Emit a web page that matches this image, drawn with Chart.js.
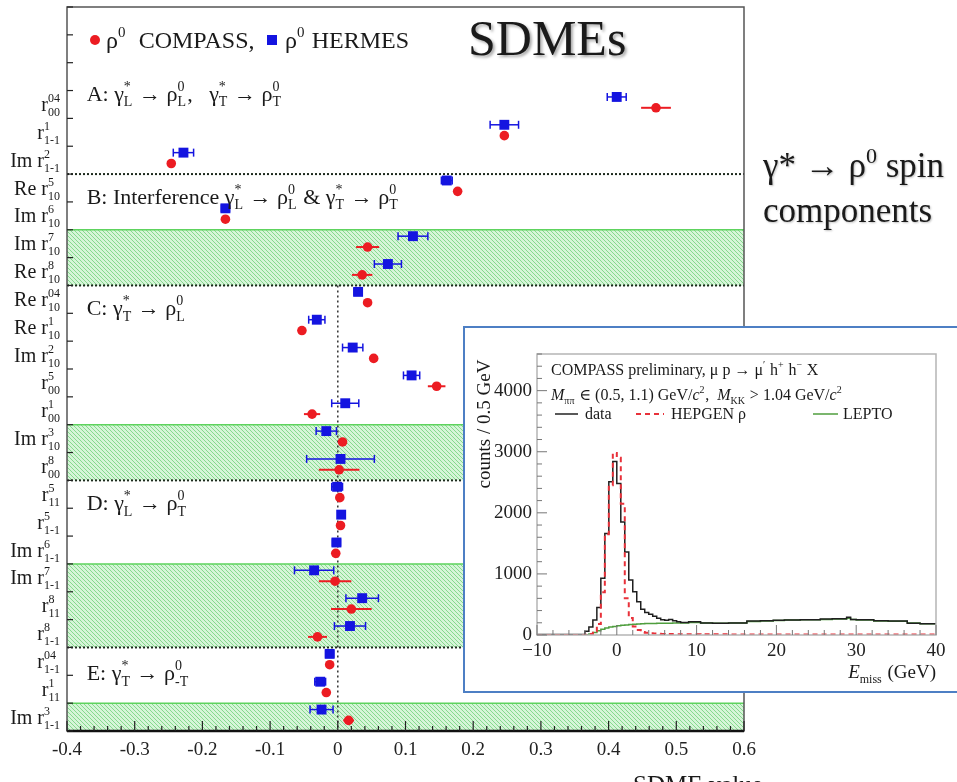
<!DOCTYPE html>
<html>
<head>
<meta charset="utf-8">
<script src="https://cdn.jsdelivr.net/npm/chart.js@4.4.1/dist/chart.umd.min.js"></script>
<style>
  html, body { margin: 0; padding: 0; background: #fff; }
  body { width: 957px; height: 782px; overflow: hidden; position: relative;
         font-family: "Liberation Serif", "DejaVu Serif", serif; color: #1a1a1a; }
  #main { position: absolute; left: 0; top: 0; }
  #insetBox { position: absolute; left: 463px; top: 326px; width: 520px; height: 363px;
              border: 2px solid #4d7fc4; background: #fff; }
  #inset { position: absolute; left: 1px; top: 1px; }
  .txt { position: absolute; white-space: nowrap; }
  #title { left: 468px; top: 13px; font-size: 50px; line-height: 50px;
           text-shadow: 2px 2px 3px rgba(0,0,0,0.35); }
  #caption { left: 763px; top: 145px; font-size: 35px; line-height: 41px;
             text-shadow: 1px 1px 2px rgba(0,0,0,0.25); }
  #caption .s { font-size: 22px; position: relative; top: -14px; }
  #xtitle { left: 633px; top: 772px; font-size: 25px; line-height: 25px; }
</style>
</head>
<body>
<canvas id="main" width="957" height="782"></canvas>
<div class="txt" id="title">SDMEs</div>
<div class="txt" id="caption">γ* → ρ<span class="s">0</span> spin<br>components</div>
<div class="txt" id="xtitle">SDME value</div>
<div id="insetBox"><canvas id="inset" width="491" height="361"></canvas></div>

<script>
const SERIF = '"Liberation Serif", "DejaVu Serif", serif';

// rows, top to bottom
const rowPrefix = ['', '', 'Im ', 'Re ', 'Im ', 'Im ', 'Re ', 'Re ', 'Re ', 'Im ', '', '', 'Im ', '', '', '', 'Im ', 'Im ', '', '', '', '', 'Im '];
const rowSup = ['04', '1', '2', '5', '6', '7', '8', '04', '1', '2', '5', '1', '3', '8', '5', '5', '6', '7', '8', '8', '04', '1', '3'];
const rowSub = ['00', '1-1', '1-1', '10', '10', '10', '10', '10', '10', '10', '00', '00', '10', '00', '11', '1-1', '1-1', '1-1', '11', '1-1', '1-1', '11', '1-1'];

const compassVals = [0.470, 0.246, -0.246, 0.177, -0.166, 0.044, 0.036, 0.044, -0.053, 0.053, 0.146, -0.038, 0.007, 0.002, 0.003, 0.004, -0.003, -0.004, 0.020, -0.030, -0.012, -0.017, 0.016];
const compassErr = [0.022, 0.005, 0.004, 0.004, 0.004, 0.017, 0.015, 0.004, 0.004, 0.004, 0.013, 0.012, 0.005, 0.030, 0.004, 0.004, 0.004, 0.024, 0.030, 0.014, 0.004, 0.004, 0.008];
const hermesVals = [0.412, 0.246, -0.228, 0.161, -0.166, 0.111, 0.074, 0.030, -0.031, 0.022, 0.109, 0.011, -0.017, 0.004, -0.001, 0.005, -0.002, -0.035, 0.036, 0.018, -0.012, -0.026, -0.024];
const hermesErr = [0.014, 0.021, 0.015, 0.008, 0.006, 0.022, 0.020, 0.006, 0.012, 0.015, 0.012, 0.020, 0.015, 0.050, 0.008, 0.004, 0.006, 0.029, 0.024, 0.023, 0.006, 0.008, 0.017];

// layout of the row groups
const greenBands = [[5.5, 7.5], [12.5, 14.5], [17.5, 20.5], [22.5, 23.5]];
const sectionBreaks = [3.5, 7.5, 14.5, 20.5];
const sectionLabels = [
  { row: 0.6, parts: ['A: γ', { sup: '*', sub: 'L' }, ' → ρ', { sup: '0', sub: 'L' }, ',   γ', { sup: '*', sub: 'T' }, ' → ρ', { sup: '0', sub: 'T' }] },
  { row: 4.3, parts: ['B: Interference γ', { sup: '*', sub: 'L' }, ' → ρ', { sup: '0', sub: 'L' }, ' & γ', { sup: '*', sub: 'T' }, ' → ρ', { sup: '0', sub: 'T' }] },
  { row: 8.3, parts: ['C: γ', { sup: '*', sub: 'T' }, ' → ρ', { sup: '0', sub: 'L' }] },
  { row: 15.3, parts: ['D: γ', { sup: '*', sub: 'L' }, ' → ρ', { sup: '0', sub: 'T' }] },
  { row: 21.4, parts: ['E: γ', { sup: '*', sub: 'T' }, ' → ρ', { sup: '0', sub: '-T' }] },
];

// inset: E_miss histogram (bin left edges, last entry closes the last bin)
const missEdges = [-10, -4, -3.5, -3, -2.5, -2, -1.5, -1, -0.5, 0, 0.5, 1, 1.5, 2, 2.5, 3, 3.5, 4, 4.5, 5, 5.5, 6, 6.5, 7, 7.5, 8, 9, 10.5, 12, 14, 16.3, 18, 19.6, 21, 23, 25.5, 27, 28.8, 29.3, 30, 32.2, 34, 36.4, 38, 40];
const dataCounts = [10, 60, 130, 245, 450, 930, 1660, 2510, 2840, 2480, 1850, 1360, 900, 710, 545, 420, 370, 340, 305, 275, 250, 240, 255, 235, 215, 205, 215, 195, 192, 195, 228, 232, 242, 246, 250, 262, 265, 290, 255, 248, 232, 228, 192, 185];
const hepgenCounts = [0, 5, 15, 60, 180, 700, 1650, 2450, 2980, 2900, 2150, 600, 280, 140, 80, 50, 35, 28, 24, 20, 18, 16, 15, 14, 13, 12, 12, 11, 11, 10, 10, 10, 10, 10, 10, 10, 10, 10, 10, 10, 10, 10, 10, 10];
const leptoCounts = [0, 5, 15, 40, 70, 95, 115, 130, 140, 150, 158, 165, 172, 178, 182, 185, 187, 189, 190, 191, 192, 193, 194, 195, 196, 198, 203, 195, 192, 195, 220, 228, 238, 244, 248, 255, 260, 275, 255, 245, 230, 225, 195, 185];
const countTicks = [0, 1000, 2000, 3000, 4000];

const RED = '#ec1c22';
const BLUE = '#1414e0';

// text with stacked super/subscripts
function runRich(ctx, parts, size, x, y, draw) {
  for (const p of parts) {
    if (typeof p === 'string' || p.it) {
      const s = typeof p === 'string' ? p : p.it;
      ctx.font = (p.it ? 'italic ' : '') + size + 'px ' + SERIF;
      if (draw) ctx.fillText(s, x, y);
      x += ctx.measureText(s).width;
    } else {
      ctx.font = Math.round(size * 0.62) + 'px ' + SERIF;
      let w = 0;
      if (p.sup) {
        if (draw) ctx.fillText(p.sup, x, y - size * 0.45);
        w = Math.max(w, ctx.measureText(p.sup).width);
      }
      if (p.sub) {
        if (draw) ctx.fillText(p.sub, x, y + size * 0.25);
        w = Math.max(w, ctx.measureText(p.sub).width);
      }
      x += w + size * 0.05;
    }
  }
  return x;
}

function hLine(ctx, x0, y0, x1, y1) {
  ctx.beginPath();
  ctx.moveTo(x0, y0);
  ctx.lineTo(x1, y1);
  ctx.stroke();
}

function makeHatch(ctx) {
  const c = document.createElement('canvas');
  c.width = 4;
  c.height = 4;
  const g = c.getContext('2d');
  g.fillStyle = '#d6f5d8';
  g.fillRect(0, 0, 4, 4);
  g.strokeStyle = '#86d98e';
  g.lineWidth = 1;
  g.beginPath();
  g.moveTo(-1, -1); g.lineTo(5, 5);
  g.moveTo(-3, 1); g.lineTo(1, 5);
  g.moveTo(1, -3); g.lineTo(5, 1);
  g.stroke();
  return ctx.createPattern(c, 'repeat');
}

const sdmePlugin = {
  id: 'sdme',
  beforeDatasetsDraw(chart) {
    const { ctx, chartArea: a, scales: { x, y } } = chart;
    ctx.save();
    const hatch = makeHatch(ctx);
    for (const [from, to] of greenBands) {
      const y0 = y.getPixelForValue(from);
      const y1 = y.getPixelForValue(to);
      ctx.fillStyle = hatch;
      ctx.fillRect(a.left, y0, a.right - a.left, y1 - y0);
      ctx.strokeStyle = '#5ed35e';
      ctx.lineWidth = 1.5;
      hLine(ctx, a.left, y0, a.right, y0);
    }
    ctx.setLineDash([2, 2]);
    ctx.strokeStyle = '#1d2a1d';
    ctx.lineWidth = 2;
    for (const s of sectionBreaks) {
      const yy = y.getPixelForValue(s);
      hLine(ctx, a.left, yy, a.right, yy);
    }
    ctx.setLineDash([2, 3]);
    ctx.lineWidth = 1.5;
    ctx.strokeStyle = '#333';
    const x0 = x.getPixelForValue(0);
    hLine(ctx, x0, y.getPixelForValue(7.5), x0, a.bottom);
    ctx.setLineDash([]);

    // horizontal error bars
    chart.data.datasets.forEach(ds => {
      ds.data.forEach((pt, j) => {
        const e = ds.xErr[j];
        const xl = x.getPixelForValue(pt.x - e);
        const xr = x.getPixelForValue(pt.x + e);
        const yy = y.getPixelForValue(pt.y);
        ctx.strokeStyle = ds.borderColor;
        ctx.lineWidth = ds.capSize ? 1.5 : 2;
        hLine(ctx, xl, yy, xr, yy);
        if (ds.capSize) {
          hLine(ctx, xl, yy - ds.capSize, xl, yy + ds.capSize);
          hLine(ctx, xr, yy - ds.capSize, xr, yy + ds.capSize);
        }
      });
    });
    ctx.restore();
  },
  afterDraw(chart) {
    const { ctx, chartArea: a, scales: { x, y } } = chart;
    ctx.save();
    // frame
    ctx.strokeStyle = '#555';
    ctx.lineWidth = 1.5;
    ctx.strokeRect(a.left, a.top, a.right - a.left, a.bottom - a.top);
    ctx.strokeStyle = '#111';
    ctx.lineWidth = 2.5;
    hLine(ctx, a.left, a.bottom, a.right, a.bottom);

    // ticks
    ctx.lineWidth = 1.2;
    ctx.strokeStyle = '#222';
    for (let k = 0; k <= 50; k++) {
      const px = x.getPixelForValue(-0.4 + k * 0.02);
      hLine(ctx, px, a.bottom, px, a.bottom - (k % 5 === 0 ? 10 : 5));
    }
    for (let r = -2.5; r <= 23.5; r += 1) {
      const py = y.getPixelForValue(r);
      hLine(ctx, a.left, py, a.left + 6, py);
    }

    // row labels
    ctx.fillStyle = '#1a1a1a';
    ctx.textAlign = 'left';
    ctx.textBaseline = 'alphabetic';
    rowSup.forEach((sup, i) => {
      const parts = [rowPrefix[i] + 'r', { sup, sub: rowSub[i] }];
      const w = runRich(ctx, parts, 20, 0, 0, false);
      const cy = y.getPixelForValue(i + 1);
      runRich(ctx, parts, 20, 61 - w, cy + 6.5, true);
    });

    // group labels
    for (const s of sectionLabels) {
      const cy = y.getPixelForValue(s.row);
      runRich(ctx, s.parts, 22, x.getPixelForValue(-0.371), cy + 7.5, true);
    }

    // legend
    ctx.fillStyle = RED;
    ctx.beginPath();
    ctx.arc(95, 40, 5, 0, Math.PI * 2);
    ctx.fill();
    ctx.fillStyle = BLUE;
    ctx.fillRect(267, 35, 10, 10);
    ctx.fillStyle = '#1a1a1a';
    runRich(ctx, ['ρ', { sup: '0' }, '  COMPASS,'], 24, 106, 48, true);
    runRich(ctx, ['ρ', { sup: '0' }, ' HERMES'], 24, 285, 48, true);
    ctx.restore();
  }
};

const rowOf = (i, shift) => i + 1 + shift;

new Chart(document.getElementById('main'), {
  type: 'scatter',
  data: {
    datasets: [
      {
        label: 'ρ0 HERMES',
        data: hermesVals.map((v, i) => ({ x: v, y: rowOf(i, -0.27) })),
        xErr: hermesErr,
        capSize: 4,
        pointStyle: 'rect',
        pointRadius: 7,
        backgroundColor: BLUE,
        borderColor: BLUE,
        borderWidth: 0
      },
      {
        label: 'ρ0 COMPASS',
        data: compassVals.map((v, i) => ({ x: v, y: rowOf(i, 0.12) })),
        xErr: compassErr,
        capSize: 0,
        pointStyle: 'circle',
        pointRadius: 4.8,
        backgroundColor: RED,
        borderColor: RED,
        borderWidth: 0
      }
    ]
  },
  options: {
    responsive: false,
    animation: false,
    events: [],
    layout: { padding: { left: 0, top: 6, right: 213, bottom: 0 } },
    plugins: { legend: { display: false }, tooltip: { enabled: false } },
    scales: {
      x: {
        type: 'linear',
        min: -0.4,
        max: 0.6,
        grid: { display: false, drawTicks: false },
        border: { display: false },
        ticks: {
          stepSize: 0.1,
          padding: 8,
          maxRotation: 0,
          autoSkip: false,
          color: '#222',
          font: { family: SERIF, size: 19 },
          callback: v => Math.abs(v) < 1e-9 ? '0' : v.toFixed(1)
        },
        afterFit: s => { s.height = 51; }
      },
      y: {
        type: 'linear',
        reverse: true,
        min: -2.5,
        max: 23.5,
        grid: { display: false, drawTicks: false },
        border: { display: false },
        ticks: { display: false },
        afterFit: s => { s.width = 67; }
      }
    }
  },
  plugins: [sdmePlugin]
});

// ---- inset ----
const stepPoints = counts => missEdges.map((e, i) => ({ x: e, y: counts[Math.min(i, counts.length - 1)] }));

const insetPlugin = {
  id: 'insetDeco',
  afterDraw(chart) {
    const { ctx, chartArea: a, scales: { x, y } } = chart;
    ctx.save();
    ctx.strokeStyle = '#b5b5b5';
    ctx.lineWidth = 1.5;
    ctx.strokeRect(a.left, a.top, a.right - a.left, a.bottom - a.top);
    ctx.strokeStyle = '#777';
    ctx.lineWidth = 1;
    for (let v = 0; v <= 4600; v += 200) {
      const py = y.getPixelForValue(v);
      hLine(ctx, a.left, py, a.left + (v % 1000 === 0 ? 10 : 5), py);
    }
    for (let v = -10; v <= 40; v += 2) {
      const px = x.getPixelForValue(v);
      hLine(ctx, px, a.bottom, px, a.bottom - (v % 10 === 0 ? 10 : 5));
    }

    ctx.fillStyle = '#1a1a1a';
    ctx.textAlign = 'left';
    ctx.textBaseline = 'alphabetic';
    runRich(ctx, ['COMPASS preliminary, μ p → μ', { sup: '\u2032' }, ' h', { sup: '+' }, ' h', { sup: '\u2212' }, ' X'], 16, 85, 46, true);
    runRich(ctx, [{ it: 'M' }, { sub: 'ππ' }, ' ∈ (0.5, 1.1) GeV/', { it: 'c' }, { sup: '2' }, ',  ', { it: 'M' }, { sub: 'KK' }, ' > 1.04 GeV/', { it: 'c' }, { sup: '2' }], 16, 85, 71, true);

    // legend
    ctx.lineWidth = 1.5;
    ctx.strokeStyle = '#222';
    hLine(ctx, 89, 85, 112, 85);
    ctx.strokeStyle = '#e8313a';
    ctx.lineWidth = 2;
    ctx.setLineDash([5, 4]);
    hLine(ctx, 170, 85, 198, 85);
    ctx.setLineDash([]);
    ctx.strokeStyle = '#4f9e3e';
    ctx.lineWidth = 1.5;
    hLine(ctx, 347, 85, 372, 85);
    ctx.font = '16px ' + SERIF;
    ctx.fillText('data', 119, 90);
    ctx.fillText('HEPGEN ρ', 205, 90);
    ctx.fillText('LEPTO', 377, 90);

    // axis titles
    const xt = [{ it: 'E' }, { sub: 'miss' }, ' (GeV)'];
    const w = runRich(ctx, xt, 19, 0, 0, false);
    runRich(ctx, xt, 19, a.right - w, 349, true);
    ctx.translate(19, 95);
    ctx.rotate(-Math.PI / 2);
    ctx.textAlign = 'center';
    ctx.textBaseline = 'middle';
    ctx.font = '19px ' + SERIF;
    ctx.fillText('counts / 0.5 GeV', 0, 0);
    ctx.restore();
  }
};

new Chart(document.getElementById('inset'), {
  type: 'line',
  data: {
    datasets: [
      { label: 'data', data: stepPoints(dataCounts), stepped: true, borderColor: '#1f1f1f', borderWidth: 1.5, pointRadius: 0, fill: false, order: 1 },
      { label: 'HEPGEN ρ', data: stepPoints(hepgenCounts), stepped: true, borderColor: '#e8313a', borderWidth: 2, borderDash: [5, 4], pointRadius: 0, fill: false, order: 0 },
      { label: 'LEPTO', data: stepPoints(leptoCounts), stepped: true, borderColor: '#4f9e3e', borderWidth: 1.5, pointRadius: 0, fill: false, order: 2 }
    ]
  },
  options: {
    responsive: false,
    animation: false,
    events: [],
    layout: { padding: { left: 0, top: 25, right: 21, bottom: 0 } },
    plugins: { legend: { display: false }, tooltip: { enabled: false } },
    scales: {
      x: {
        type: 'linear',
        min: -10,
        max: 40,
        grid: { display: false, drawTicks: false },
        border: { display: false },
        ticks: {
          stepSize: 10,
          padding: 5,
          maxRotation: 0,
          color: '#222',
          font: { family: SERIF, size: 19 },
          callback: v => v < 0 ? '\u2212' + Math.abs(v) : String(v)
        },
        afterFit: s => { s.height = 55; }
      },
      y: {
        type: 'linear',
        min: 0,
        max: 4600,
        grid: { display: false, drawTicks: false },
        border: { display: false },
        afterBuildTicks: s => { s.ticks = countTicks.map(v => ({ value: v })); },
        ticks: {
          autoSkip: false,
          padding: 5,
          color: '#222',
          font: { family: SERIF, size: 19 },
          callback: v => String(v)
        },
        afterFit: s => { s.width = 71; }
      }
    }
  },
  plugins: [insetPlugin]
});
</script>
</body>
</html>
